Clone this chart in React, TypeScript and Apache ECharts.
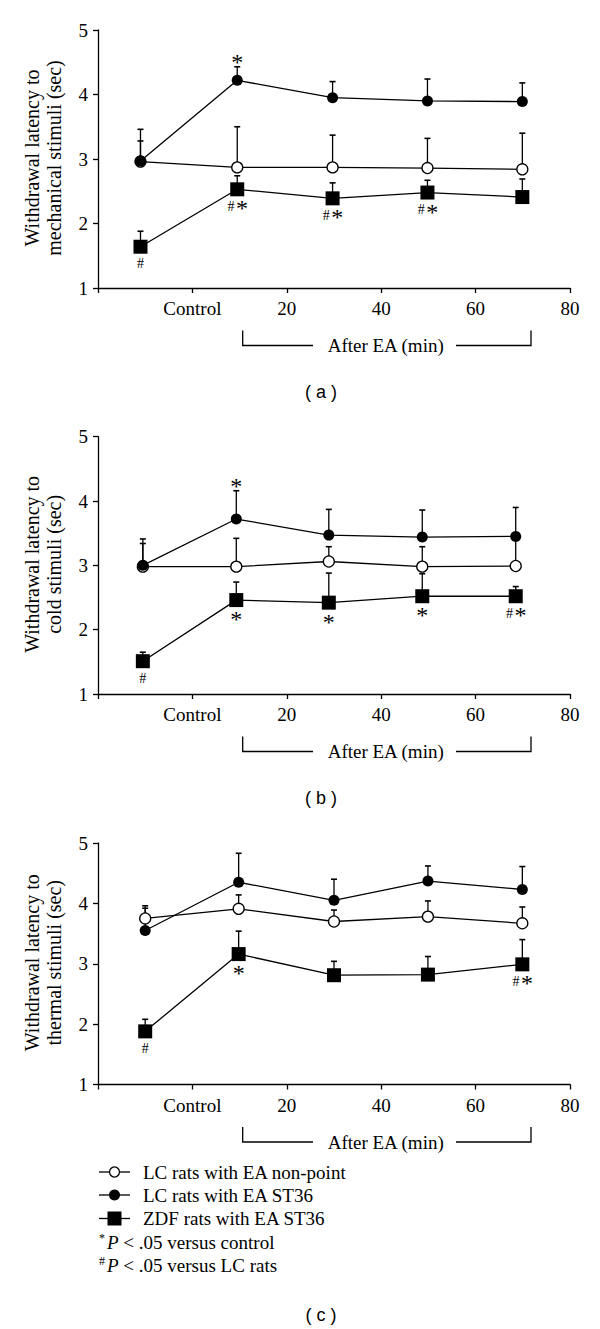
import React, { useEffect, useRef } from 'react';
import * as echarts from 'echarts';

const SERIF = 'Liberation Serif, Times New Roman, serif';
const SANS = 'Liberation Sans, Arial, sans-serif';

// x positions (min) of the measurement points in each panel
const X_A = [-11, 9.5, 29.7, 49.8, 69.9];
const X_B = [-10.5, 9.3, 28.9, 48.7, 68.5];
const X_C = [-10, 9.8, 30, 49.9, 69.9];

// Panel (a) mechanical
const OPEN_A = [2.96, 2.87, 2.87, 2.86, 2.84];
const OPEN_A_ERR = [3.28, 3.5, 3.37, 3.32, 3.4];
const FILLED_A = [2.97, 4.22, 3.95, 3.9, 3.89];
const FILLED_A_ERR = [3.46, 4.43, 4.2, 4.24, 4.18];
const SQUARE_A = [1.64, 2.53, 2.39, 2.48, 2.41];
const SQUARE_A_ERR = [1.88, 2.74, 2.63, 2.67, 2.69];
const FILLED_A_NOTES = ['', '*', '', '', ''];
const SQUARE_A_NOTES = ['#', '#*', '#*', '#*', ''];

// Panel (b) cold
const OPEN_B = [2.98, 2.98, 3.06, 2.98, 2.99];
const OPEN_B_ERR = [3.34, 3.42, 3.29, 3.29, 3.4];
const FILLED_B = [3.0, 3.72, 3.47, 3.44, 3.45];
const FILLED_B_ERR = [3.41, 4.16, 3.87, 3.86, 3.9];
const SQUARE_B = [1.51, 2.46, 2.42, 2.52, 2.52];
const SQUARE_B_ERR = [1.65, 2.74, 2.88, 2.87, 2.67];
const FILLED_B_NOTES = ['', '*', '', '', ''];
const SQUARE_B_NOTES = ['#', '*', '*', '*', '#*'];

// Panel (c) thermal
const OPEN_C = [3.75, 3.91, 3.7, 3.78, 3.67];
const OPEN_C_ERR = [3.92, 4.14, 3.89, 4.04, 3.94];
const FILLED_C = [3.55, 4.35, 4.05, 4.37, 4.23];
const FILLED_C_ERR = [3.96, 4.83, 4.4, 4.62, 4.61];
const SQUARE_C = [1.88, 3.16, 2.81, 2.82, 2.99];
const SQUARE_C_ERR = [2.08, 3.54, 3.04, 3.12, 3.4];
const FILLED_C_NOTES = ['', '', '', '', ''];
const SQUARE_C_NOTES = ['#', '*', '', '', '#*'];

const SERIES_NAMES = ['LC rats with EA non-point', 'LC rats with EA ST36', 'ZDF rats with EA ST36'];
const Y_TITLE_LINE1 = 'Withdrawal latency to';
const Y_TITLE_LINE2 = ['mechanical stimuli (sec)', 'cold stimuli (sec)', 'thermal stimuli (sec)'];
const PANEL_LABELS = ['( a )', '( b )', '( c )'];
const X_MIN = -20;
const X_MAX = 80;
const X_INTERVAL = 20;
const Y_MIN = 1;
const Y_MAX = 5;

const GRIDS = [
  { top: 30, bottom: 288 },
  { top: 436.7, bottom: 694 },
  { top: 843, bottom: 1084.5 },
];
const GRID_LEFT = 98;
const GRID_RIGHT_X = 570;
const PANEL_LABEL_Y = [391.7, 797.7, 1315];

const PANELS = [
  { x: X_A, open: OPEN_A, openErr: OPEN_A_ERR, filled: FILLED_A, filledErr: FILLED_A_ERR, square: SQUARE_A, squareErr: SQUARE_A_ERR, fNotes: FILLED_A_NOTES, sNotes: SQUARE_A_NOTES },
  { x: X_B, open: OPEN_B, openErr: OPEN_B_ERR, filled: FILLED_B, filledErr: FILLED_B_ERR, square: SQUARE_B, squareErr: SQUARE_B_ERR, fNotes: FILLED_B_NOTES, sNotes: SQUARE_B_NOTES },
  { x: X_C, open: OPEN_C, openErr: OPEN_C_ERR, filled: FILLED_C, filledErr: FILLED_C_ERR, square: SQUARE_C, squareErr: SQUARE_C_ERR, fNotes: FILLED_C_NOTES, sNotes: SQUARE_C_NOTES },
];

const STAR_SIZE = 24;
const HASH_SIZE = 14;

// draws a note text ("#", "*", "#*") centred at (cx, cy)
function noteEls(note: string, cx: number, cy: number) {
  const els: any[] = [];
  const star = (x: number) => ({
    type: 'text',
    x,
    y: cy + 2,
    style: { text: '*', fontFamily: SERIF, fontSize: STAR_SIZE, fill: '#000', textAlign: 'center', textVerticalAlign: 'middle' },
  });
  const hash = (x: number) => ({
    type: 'text',
    x,
    y: cy,
    style: { text: '#', fontFamily: SERIF, fontSize: HASH_SIZE, fill: '#000', textAlign: 'center', textVerticalAlign: 'middle' },
  });
  if (note === '#') els.push(hash(cx));
  else if (note === '*') els.push(star(cx));
  else if (note === '#*') els.push(hash(cx - 6.3), star(cx + 4.7));
  return els;
}

function makeErrRender(notesAbove: string[] | null, notesBelow: string[] | null) {
  return function (params: any, api: any) {
    const p = api.coord([api.value(0), api.value(1)]);
    const t = api.coord([api.value(0), api.value(2)]);
    const children: any[] = [
      { type: 'line', shape: { x1: p[0], y1: p[1], x2: p[0], y2: t[1] }, style: { stroke: '#000', lineWidth: 1.3 } },
      { type: 'line', shape: { x1: p[0] - 3, y1: t[1], x2: p[0] + 3, y2: t[1] }, style: { stroke: '#000', lineWidth: 1.6 } },
    ];
    const i = params.dataIndex;
    if (notesAbove && notesAbove[i]) children.push(...noteEls(notesAbove[i], p[0], t[1] - 7));
    if (notesBelow && notesBelow[i]) children.push(...noteEls(notesBelow[i], p[0], p[1] + 17));
    return { type: 'group', children };
  };
}

function buildOption() {
  const grid: any[] = [];
  const xAxis: any[] = [];
  const yAxis: any[] = [];
  const series: any[] = [];
  const graphic: any[] = [];

  PANELS.forEach((pn, i) => {
    const g = GRIDS[i];
    grid.push({ left: GRID_LEFT, width: GRID_RIGHT_X - GRID_LEFT, top: g.top, height: g.bottom - g.top });
    xAxis.push({
      type: 'value',
      gridIndex: i,
      min: X_MIN,
      max: X_MAX,
      interval: X_INTERVAL,
      splitLine: { show: false },
      axisLine: { onZero: false, lineStyle: { color: '#000', width: 1.3 } },
      axisTick: { length: 5, lineStyle: { color: '#000', width: 1.3 } },
      axisLabel: {
        fontFamily: SERIF,
        fontSize: 19,
        color: '#000',
        margin: 11,
        formatter: (v: number) => (v === 0 ? 'Control' : v < 0 ? '' : String(v)),
      },
    });
    yAxis.push({
      type: 'value',
      gridIndex: i,
      min: Y_MIN,
      max: Y_MAX,
      interval: 1,
      splitLine: { show: false },
      axisLine: { show: true, onZero: false, lineStyle: { color: '#000', width: 1.3 } },
      axisTick: { show: true, length: 5, lineStyle: { color: '#000', width: 1.3 } },
      axisLabel: { fontFamily: SERIF, fontSize: 19, color: '#000', margin: 10 },
    });

    const errs = [
      { vals: pn.open, err: pn.openErr, above: null, below: null },
      { vals: pn.filled, err: pn.filledErr, above: pn.fNotes, below: null },
      { vals: pn.square, err: pn.squareErr, above: null, below: pn.sNotes },
    ];
    errs.forEach((e, k) => {
      series.push({
        type: 'custom',
        name: SERIES_NAMES[k] + ' error',
        xAxisIndex: i,
        yAxisIndex: i,
        z: 1,
        clip: false,
        renderItem: makeErrRender(e.above, e.below),
        encode: { x: 0, y: [1, 2] },
        data: pn.x.map((x, j) => [x, e.vals[j], e.err[j]]),
      });
    });

    series.push({
      type: 'line',
      name: SERIES_NAMES[0],
      xAxisIndex: i,
      yAxisIndex: i,
      z: 3,
      symbol: 'circle',
      symbolSize: 11,
      lineStyle: { color: '#000', width: 1.3 },
      itemStyle: { color: '#fff', borderColor: '#000', borderWidth: 1.3 },
      data: pn.x.map((x, j) => [x, pn.open[j]]),
    });
    series.push({
      type: 'line',
      name: SERIES_NAMES[1],
      xAxisIndex: i,
      yAxisIndex: i,
      z: 4,
      symbol: 'circle',
      symbolSize: 11,
      lineStyle: { color: '#000', width: 1.3 },
      itemStyle: { color: '#000' },
      data: pn.x.map((x, j) => [x, pn.filled[j]]),
    });
    series.push({
      type: 'line',
      name: SERIES_NAMES[2],
      xAxisIndex: i,
      yAxisIndex: i,
      z: 5,
      symbol: 'rect',
      symbolSize: 14,
      lineStyle: { color: '#000', width: 1.3 },
      itemStyle: { color: '#000' },
      data: pn.x.map((x, j) => [x, pn.square[j]]),
    });

    // y-axis title (two rotated lines)
    const midY = (g.top + g.bottom) / 2 - 1;
    graphic.push(
      { type: 'text', x: 32, y: midY, rotation: Math.PI / 2, style: { text: Y_TITLE_LINE1, fontFamily: SERIF, fontSize: 20, fill: '#000', textAlign: 'center', textVerticalAlign: 'middle' } },
      { type: 'text', x: 54, y: midY, rotation: Math.PI / 2, style: { text: Y_TITLE_LINE2[i], fontFamily: SERIF, fontSize: 20, fill: '#000', textAlign: 'center', textVerticalAlign: 'middle' } }
    );

    // "After EA (min)" bracket
    const by = g.bottom + 42.5;
    const bb = by + 15;
    graphic.push(
      { type: 'polyline', shape: { points: [[242.7, by], [242.7, bb], [313, bb]] }, style: { stroke: '#000', lineWidth: 1.3, fill: null } },
      { type: 'polyline', shape: { points: [[456, bb], [531, bb], [531, by]] }, style: { stroke: '#000', lineWidth: 1.3, fill: null } },
      { type: 'text', x: 385.7, y: bb, style: { text: 'After EA (min)', fontFamily: SERIF, fontSize: 19, fill: '#000', textAlign: 'center', textVerticalAlign: 'middle' } },
      { type: 'text', x: 321, y: PANEL_LABEL_Y[i], style: { text: PANEL_LABELS[i], fontFamily: SANS, fontSize: 18, fill: '#000', textAlign: 'center', textVerticalAlign: 'middle' } }
    );
  });

  // legend block
  const LX1 = 99;
  const LX2 = 130;
  const LMID = 114.5;
  const TX = 143;
  const LY = [1172, 1195, 1218.5, 1242, 1265];
  for (let k = 0; k < 3; k++) {
    graphic.push({ type: 'line', shape: { x1: LX1, y1: LY[k], x2: LX2, y2: LY[k] }, style: { stroke: '#000', lineWidth: 1.3 } });
    graphic.push({ type: 'text', x: TX, y: LY[k], style: { text: SERIES_NAMES[k], fontFamily: SERIF, fontSize: 19, fill: '#000', textVerticalAlign: 'middle' } });
  }
  graphic.push({ type: 'circle', shape: { cx: LMID, cy: LY[0], r: 5 }, style: { fill: '#fff', stroke: '#000', lineWidth: 1.3 } });
  graphic.push({ type: 'circle', shape: { cx: LMID, cy: LY[1], r: 5.5 }, style: { fill: '#000' } });
  graphic.push({ type: 'rect', shape: { x: LMID - 7, y: LY[2] - 7, width: 14, height: 14 }, style: { fill: '#000' } });
  const footRich = {
    sup: { fontSize: 12, fontFamily: SERIF, fill: '#000', padding: [0, 2, 8, 0] },
    i: { fontSize: 19, fontFamily: SERIF, fontStyle: 'italic', fill: '#000' },
  };
  graphic.push({
    type: 'text',
    x: 99,
    y: LY[3],
    style: { text: '{sup|*}{i|P} < .05 versus control', fontFamily: SERIF, fontSize: 19, fill: '#000', textVerticalAlign: 'middle', rich: footRich },
  });
  graphic.push({
    type: 'text',
    x: 99,
    y: LY[4],
    style: { text: '{sup|#}{i|P} < .05 versus LC rats', fontFamily: SERIF, fontSize: 19, fill: '#000', textVerticalAlign: 'middle', rich: footRich },
  });

  return {
    animation: false,
    backgroundColor: '#fff',
    grid,
    xAxis,
    yAxis,
    series,
    graphic,
  };
}

export default function App() {
  const ref = useRef<HTMLDivElement>(null);
  useEffect(() => {
    if (!ref.current) return;
    const chart = echarts.init(ref.current, undefined, { renderer: 'svg' });
    chart.setOption(buildOption() as any);
    return () => chart.dispose();
  }, []);
  return <div ref={ref} style={{ position: 'absolute', left: 0, top: 0, width: 600, height: 1329 }} />;
}
